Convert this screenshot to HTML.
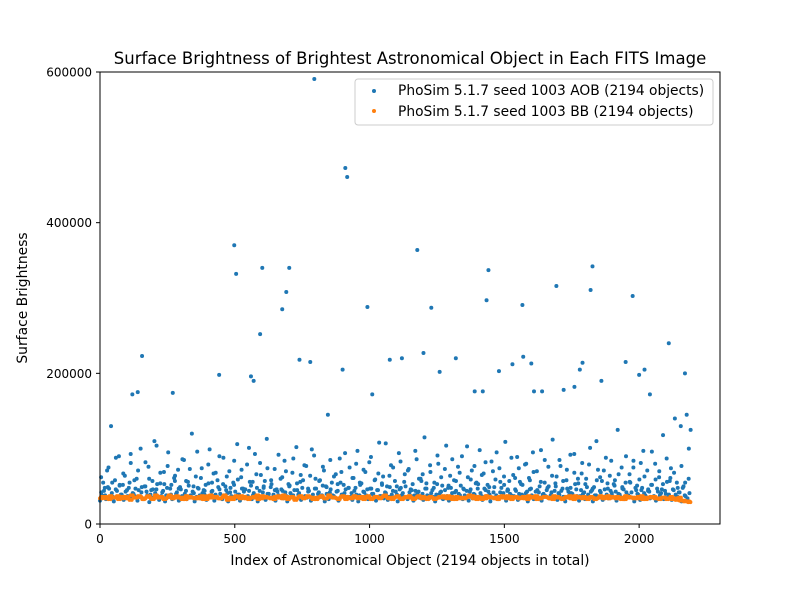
<!DOCTYPE html>
<html><head><meta charset="utf-8"><style>
body{margin:0;background:#fff}
svg text{font-family:"DejaVu Sans","Liberation Sans",sans-serif;fill:#000}
</style></head><body>
<svg id="chart" width="800" height="600" xmlns="http://www.w3.org/2000/svg">
<rect width="800" height="600" fill="#fff"/>
<text x="410" y="64" font-size="16.5" text-anchor="middle">Surface Brightness of Brightest Astronomical Object in Each FITS Image</text>
<g id="marks"></g>
<rect x="100" y="72" width="620" height="452" fill="none" stroke="#000" stroke-width="1"/>
<g id="axes"></g>
<text x="410" y="565" font-size="13.9" text-anchor="middle">Index of Astronomical Object (2194 objects in total)</text>
<text transform="translate(27,298) rotate(-90)" font-size="13.9" text-anchor="middle">Surface Brightness</text>
<g>
<rect x="355" y="79" width="358" height="46" rx="3" fill="#fff" fill-opacity="0.8" stroke="#ccc"/>
<circle cx="374" cy="91" r="2" fill="#1f77b4"/>
<text x="398" y="95" font-size="13.8">PhoSim 5.1.7 seed 1003 AOB (2194 objects)</text>
<circle cx="374" cy="111" r="2" fill="#ff7f0e"/>
<text x="398" y="116" font-size="13.8">PhoSim 5.1.7 seed 1003 BB (2194 objects)</text>
</g>
</svg>
<script>
const xTicks=[0,500,1000,1500,2000];
const yTicks=[0,200000,400000,600000];
const outlierIdx=[795,910,917,498,505,602,702,691,594,676,1177,992,1441,1229,1434,1567,1693,1827,1820,1976,2110,156,442,1075,1120,1200,1320,1390,1480,1530,1600,1640,1760,1790,1860,1950,2000,2040,2170,780,900,120,140,270,560,570,740,1010,1260,1570,1780,2020,1420,1720,1610];
const outlierVal=[590700,472600,460600,370000,332000,340000,340000,308000,252000,285000,363700,288000,337000,287000,297000,290700,316000,342000,310600,302600,240000,223000,198000,218000,220000,227000,220000,176000,203000,212000,213000,176000,182000,214000,190000,215000,198000,172000,200000,215000,205000,172000,175000,174000,196000,190000,218000,172000,202000,222000,205000,205000,176000,178000,176000];
const blueVals=[42,55,38,71,47,130,36,58,44,90,39,52,64,35,48,81,41,37,60,45,
100,34,50,43,76,39,57,110,46,36,68,42,53,38,95,47,33,61,40,72,
49,37,85,44,56,35,120,41,63,48,38,74,45,52,36,99,43,67,39,58,
46,34,88,50,41,70,37,55,43,106,39,62,47,35,79,44,51,38,93,48,
36,65,42,57,113,40,49,35,73,46,38,60,44,84,37,53,41,68,45,102,
39,56,48,36,77,43,64,35,91,47,40,58,38,71,50,145,42,55,37,66,
44,87,39,52,46,36,75,41,61,48,97,38,54,43,69,35,82,47,40,59,
45,108,37,63,42,50,36,78,44,57,39,94,48,41,66,35,73,46,53,38,
86,43,60,40,115,47,37,69,45,55,39,80,42,51,36,104,48,64,41,58,
44,76,38,90,46,35,62,43,71,40,54,47,98,37,67,45,52,39,83,42,
59,36,74,48,41,109,44,57,38,65,46,89,40,53,37,79,43,61,47,95,
35,70,42,56,39,85,45,50,38,112,44,63,41,77,47,36,58,43,92,40,
68,46,54,37,81,42,60,39,101,45,49,38,72,44,57,36,88,47,64,41,
53,43,125,39,75,46,55,37,66,42,84,48,40,59,45,97,38,71,43,52,
36,80,47,62,41,118,44,56,39,74,46,140,55,42,130,48,38,145,60,125];
const blueLow=[31,38,44,33,49,36,41,30,46,35,52,39,32,43,37,55,34,40,47,31,
36,42,33,50,38,29,45,35,41,53,32,37,44,30,48,36,39,34,57,42,
31,46,35,40,33,51,38,43,30,36,47,34,41,39,32,54,37,44,31,35,
49,40,33,38,45,30,42,36,52,34,39,31,47,43,35,37,56,33,41,38,
30,44,36,48,32,40,35,53,39,31,43,37,46,34,42,30,50,36,38,33,
45,41,32,58,37,35,44,31,39,47,34,42,36,51,30,40,33,46,38,35,
43,31,55,37,41,34,48,36,32,44,39,30,52,35,42,38,33,47,40,36,
31,45,37,54,34,41,32,49,39,35,43,30,46,38,36,50,33,42,37,31,
44,40,35,57,32,47,38,34,41,36,30,53,39,43,33,45,37,31,48,35,
42,36,40,51,33,38,44,31,46,34,39,55,36,41,32,47,37,43,30,35,
49,38,33,42,36,52,31,45,40,34,37,44,32,56,39,35,41,30,46,38,
33,43,36,50,31,40,37,48,34,42,35,54,32,39,44,36,30,47,38,41,
34,53,37,31,45,40,33,49,36,43,30,38,58,35,42,32,46,39,34,44,
37,51,31,40,36,47,33,42,38,55,35,30,45,39,32,48,41,36,44,34,
52,37,31,43,38,46,33,40,35,57,32,45,39,36,42,30,50,37,34,41];
const blueMid=[62,48,75,55,88,51,67,45,93,58,71,49,82,60,46,104,54,69,77,52,
64,47,86,57,73,50,96,61,44,79,55,68,90,53,63,48,84,59,72,46,
101,56,66,81,50,74,58,45,92,62,70,51,87,54,65,78,47,99,60,57,
76,49,85,63,53,69,94,48,61,80,55,72,46,89,58,67,52,107,64,75,
50,83,56,71,45,97,60,66,54,78,48,91,62,73,51,86,57,68,47,103,
59,77,53,65,82,49,70,95,56,63,46,88,61,74,52,80,58,69,45,98,
55,76,64,50,85,57,72,48,93,60,67,53,79,47,110,62,71,54,84,58,
66,49,90,56,75,51,81,63,46,96,59,70,53,87,61,68,48,77,55,100];
const orangeVals=[34,36,33,35,37,34,36,32,35,37,33,36,34,38,35,33,36,34,37,35,
33,36,35,34,37,33,38,35,34,36,32,35,37,34,36,33,35,38,34,36,
35,33,37,34,36,35,32,36,34,37,35,33,36,34,38,35,34,36,33,35,
37,34,36,35,33,36,34,37,35,33,36,34,35,37,33,36,34,35,36,33,
35,37,34,36,33,35,34,36,37,33,35,34,36,35,33,37,34,36,35,34,
36,33,35,37,34,36,35,33,36,34,35,37,33,36,34,35,36,33,35,34,
37,36,34,35,33,36,35,34,37,33,35,36,34,35,33,36,34,35,31,30];
const orangeVals2=[36,34,37,35,33,36,34,38,35,36,34,37,33,35,36,34,38,36,35,33,
37,35,34,36,33,37,35,36,34,38,35,33,36,37,34,35,36,33,37,35,
34,36,35,38,33,36,34,37,35,36,33,35,37,34,36,35,33,37,36,34,
35,36,33,37,34,36,35,38,34,35,37,33,36,35,34,37,36,33,35,34,
36,35,37,33,36,34,35,38,34,36,33,37,35,34,36,35,37,33,36,35,
34,37,36,33,35,36,34,37,35,33,36,34,37,35,36,33,35,34,37,36,
34,35,36,33,37,35,34,36,33,35,36,34,33,35,34,33,32,31,30,29];
const x=v=>100+v*(620/2300);
const y=v=>524-v*(452/600000);
const ns="http://www.w3.org/2000/svg";
const marks=document.getElementById('marks'),axes=document.getElementById('axes');
function dot(cx,cy,col,name){const c=document.createElementNS(ns,'circle');c.setAttribute('cx',cx);c.setAttribute('cy',cy);c.setAttribute('r',2);c.setAttribute('fill',col);


marks.appendChild(c);}
function series(arr,phase,col,name,scale){arr.forEach((v,i)=>dot(x((i+phase)*2194/arr.length),y(v*scale),col,name));}
series(blueLow,0,'#1f77b4','aob-point',1000);
series(blueMid,0.3,'#1f77b4','aob-point',1000);
series(blueVals,0.6,'#1f77b4','aob-point',1000);
outlierIdx.forEach((ix,i)=>dot(x(ix),y(outlierVal[i]),'#1f77b4','aob-point'));
series(orangeVals,0,'#ff7f0e','bb-point',1000);
series(orangeVals2,0.25,'#ff7f0e','bb-point',1000);
series(orangeVals,0.5,'#ff7f0e','bb-point',1000);
series(orangeVals2,0.75,'#ff7f0e','bb-point',1000);
xTicks.forEach(t=>{const l=document.createElementNS(ns,'line');l.setAttribute('x1',x(t));l.setAttribute('x2',x(t));l.setAttribute('y1',524);l.setAttribute('y2',528);l.setAttribute('stroke','#000');


axes.appendChild(l);
const tx=document.createElementNS(ns,'text');tx.setAttribute('x',x(t));tx.setAttribute('y',543);tx.setAttribute('font-size','12');tx.setAttribute('text-anchor','middle');tx.textContent=t;


axes.appendChild(tx);});
yTicks.forEach(t=>{const l=document.createElementNS(ns,'line');l.setAttribute('x1',96);l.setAttribute('x2',100);l.setAttribute('y1',y(t));l.setAttribute('y2',y(t));l.setAttribute('stroke','#000');


axes.appendChild(l);
const tx=document.createElementNS(ns,'text');tx.setAttribute('x',92);tx.setAttribute('y',y(t)+4.5);tx.setAttribute('font-size','12');tx.setAttribute('text-anchor','end');tx.textContent=t;


axes.appendChild(tx);});
</script>
</body></html>
